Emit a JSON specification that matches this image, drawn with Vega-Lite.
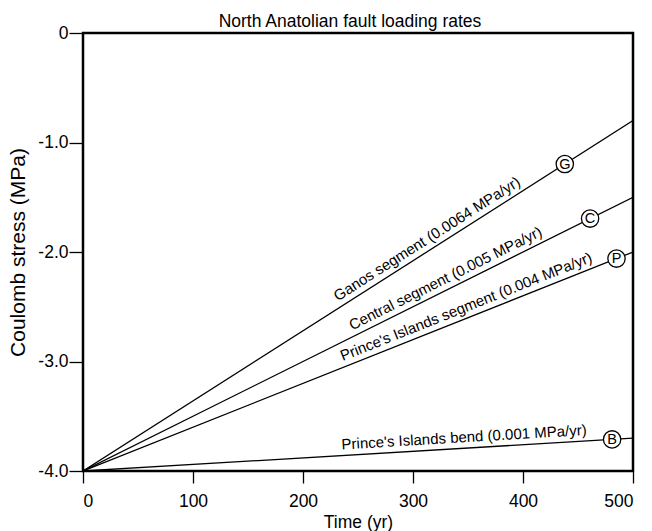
{
  "$schema": "https://vega.github.io/schema/vega-lite/v6.json",
  "autosize": "none",
  "padding": {"left": 83, "top": 33, "right": 19, "bottom": 60},
  "width": 550,
  "height": 438,
  "title": {"text": "North Anatolian fault loading rates", "fontSize": 17.5, "font": "Liberation Sans", "fontWeight": "normal", "color": "black", "offset": -6, "dx": -8},
  "config": {
    "view": {"stroke": "black", "strokeWidth": 2.5},
    "font": "Liberation Sans",
    "axis": {"domain": false, "grid": false, "tickColor": "black", "tickWidth": 1.3, "labelColor": "black", "labelFont": "Liberation Sans", "labelFontSize": 17.5, "titleFont": "Liberation Sans", "titleFontWeight": "normal", "titleColor": "black"}
  },
  "datasets": {
    "lines": [
      {"segment": "G", "t": 0, "stress": -4.0}, {"segment": "G", "t": 500, "stress": -0.8},
      {"segment": "C", "t": 0, "stress": -4.0}, {"segment": "C", "t": 500, "stress": -1.5},
      {"segment": "P", "t": 0, "stress": -4.0}, {"segment": "P", "t": 500, "stress": -2.0},
      {"segment": "B", "t": 0, "stress": -4.0}, {"segment": "B", "t": 500, "stress": -3.7}
    ],
    "labels": [
      {"segment": "G", "t": 318, "stress": -1.965, "label": "Ganos segment (0.0064 MPa/yr)"},
      {"segment": "C", "t": 334, "stress": -2.33, "label": "Central segment (0.005 MPa/yr)"},
      {"segment": "P", "t": 352, "stress": -2.592, "label": "Prince's Islands segment (0.004 MPa/yr)"},
      {"segment": "B", "t": 347, "stress": -3.7918, "label": "Prince's Islands bend (0.001 MPa/yr)"}
    ],
    "markers": [
      {"segment": "G", "t": 438, "stress": -1.1968},
      {"segment": "C", "t": 461, "stress": -1.695},
      {"segment": "P", "t": 485, "stress": -2.06},
      {"segment": "B", "t": 481, "stress": -3.7114}
    ]
  },
  "encoding": {
    "x": {"field": "t", "type": "quantitative", "scale": {"domain": [0, 500], "nice": false}, "axis": {"values": [0, 100, 200, 300, 400, 500], "title": "Time (yr)", "tickSize": 12, "labelPadding": 9, "titlePadding": 4, "titleFontSize": 17.5}},
    "y": {"field": "stress", "type": "quantitative", "scale": {"domain": [-4, 0], "nice": false, "zero": false}, "axis": {"values": [-4, -3, -2, -1, 0], "labelExpr": "datum.value == 0 ? '0' : '-' + format(abs(datum.value), '.1f')", "title": "Coulomb stress (MPa)", "tickSize": 14, "labelPadding": 1, "titlePadding": 9, "titleFontSize": 21}}
  },
  "layer": [
    {"data": {"name": "lines"}, "mark": {"type": "line", "color": "black", "strokeWidth": 1.3, "clip": true}, "encoding": {"detail": {"field": "segment"}}},
    {"data": {"name": "labels"}, "transform": [{"filter": "datum.segment == 'G'"}], "mark": {"type": "text", "angle": -32.5, "baseline": "bottom", "dy": -3, "fontSize": 15, "color": "black"}, "encoding": {"text": {"field": "label"}}},
    {"data": {"name": "labels"}, "transform": [{"filter": "datum.segment == 'C'"}], "mark": {"type": "text", "angle": -26.5, "baseline": "bottom", "dy": -3, "fontSize": 15, "color": "black"}, "encoding": {"text": {"field": "label"}}},
    {"data": {"name": "labels"}, "transform": [{"filter": "datum.segment == 'P'"}], "mark": {"type": "text", "angle": -21.7, "baseline": "bottom", "dy": -3, "fontSize": 15, "color": "black"}, "encoding": {"text": {"field": "label"}}},
    {"data": {"name": "labels"}, "transform": [{"filter": "datum.segment == 'B'"}], "mark": {"type": "text", "angle": -3.4, "baseline": "bottom", "dy": -3, "fontSize": 15, "color": "black"}, "encoding": {"text": {"field": "label"}}},
    {"data": {"name": "markers"}, "mark": {"type": "point", "shape": "circle", "size": 300, "filled": true, "fill": "white", "stroke": "black", "strokeWidth": 1.3, "opacity": 1}},
    {"data": {"name": "markers"}, "mark": {"type": "text", "fontSize": 14.5, "color": "black", "baseline": "middle", "align": "center", "dy": 0.5}, "encoding": {"text": {"field": "segment"}}}
  ]
}
